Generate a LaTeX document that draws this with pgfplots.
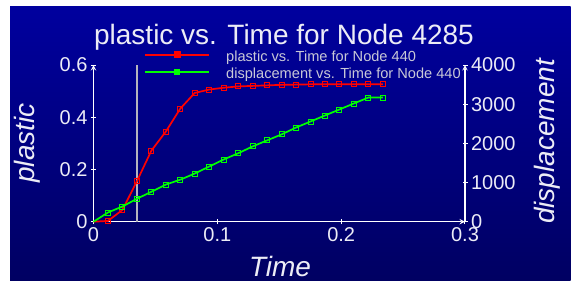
\documentclass[border=0pt]{standalone}
\usepackage{pgfplots}
\pgfplotsset{compat=1.18}
\usepackage{pgfplotstable}
\usepackage{fontspec}
\setmainfont{Liberation Sans}
\definecolor{bgtop}{RGB}{0,0,158}
\definecolor{bgbot}{RGB}{0,0,98}
\definecolor{txt}{RGB}{236,236,246}
\definecolor{legtxt}{RGB}{200,200,215}
\definecolor{vline}{RGB}{180,180,190}
\definecolor{myred}{RGB}{255,0,0}
\definecolor{mygreen}{RGB}{0,255,0}

\pgfplotstableread{
t plastic
0 0
0.01168 0.003
0.02336 0.045
0.03504 0.155
0.04672 0.272
0.05840 0.345
0.07008 0.433
0.08176 0.493
0.09344 0.506
0.10512 0.513
0.11680 0.518
0.12848 0.520
0.14016 0.522
0.15184 0.524
0.16352 0.525
0.17520 0.526
0.18688 0.526
0.19856 0.526
0.21024 0.526
0.22192 0.526
0.23360 0.526
}\plasticdata

\pgfplotstableread{
t disp
0 0
0.01168 235
0.02336 388
0.03504 585
0.04672 764
0.05840 948
0.07008 1072
0.08176 1230
0.09344 1408
0.10512 1588
0.11680 1746
0.12848 1921
0.14016 2075
0.15184 2228
0.16352 2403
0.17520 2557
0.18688 2711
0.19856 2864
0.21024 3018
0.22192 3168
0.23360 3168
}\dispdata

\pgfplotsset{
  mystyle/.style={
    scale only axis, width=371.5pt, height=156.7pt,
    at={(93.5pt,62.3pt)}, anchor=south west,
    xmin=0, xmax=0.3, clip=false,
    axis line style={white, line width=1.4pt, -},
    tick style={white, line width=1pt},
    major tick length=5pt, tick align=center,
    tick label style={text=txt, font=\fontsize{20}{24}\selectfont},
    /pgf/number format/assume math mode=true,
    /pgf/number format/1000 sep={},
    label style={text=txt, font=\fontsize{28}{32}\selectfont\itshape},
  },
  mylegimg/.style={
    legend image code/.code={
      \draw[##1, mark=none, line width=2pt] (0pt,2.5pt) -- (64pt,2.5pt);
      \draw[##1, mark=square*, mark phase=1, mark repeat=1, mark size=2.5pt] plot coordinates {(32pt,2.5pt)};
    }
  },
}

\begin{document}
\begin{tikzpicture}
\fill[white] (0,0) rectangle (574pt,284pt);
\shade[top color=bgtop, bottom color=bgbot] (10pt,3pt) rectangle (570.7pt,277pt);
\node[anchor=base, text=txt, font=\fontsize{28}{32}\selectfont, inner sep=0pt] at (284pt,239pt) {plastic vs. Time for Node 4285};

\begin{axis}[mystyle,
  axis x line=bottom, axis y line=left,
  ymin=0, ymax=0.6,
  ytick={0,0.2,0.4,0.6}, xtick={0,0.1,0.2,0.3},
  xlabel={Time}, ylabel={plastic},
  xlabel style={at={(axis description cs:0.502,-0.289)}, anchor=center},
  ylabel style={at={(axis description cs:-0.179,0.502)}, anchor=center},
]
\addplot[vline, line width=1.5pt] coordinates {(0.035,0) (0.035,0.6)};
\addplot[myred, line width=1.7pt, mark=square, mark size=2.5pt, mark phase=2,
  mark options={solid, line width=0.9pt}] table[x=t, y=plastic] {\plasticdata};
\end{axis}

\begin{axis}[mystyle, mylegimg,
  axis y line=right, axis x line=none,
  ymin=0, ymax=4000,
  ytick={0,1000,2000,3000,4000},
  ylabel={displacement},
  every axis y label/.style={at={(axis description cs:1.221,0.512)}, anchor=center, rotate=90,
    text=txt, font=\fontsize{28}{32}\selectfont\itshape},
  legend style={at={(axis description cs:0.1359,1.097)}, anchor=north west,
    draw=none, fill=none, text=legtxt, font=\fontsize{14.6}{16}\selectfont,
    nodes={inner sep=0pt, text height=11pt, text depth=3pt},
    row sep=3pt, column sep=16pt, inner sep=0pt},
  legend cell align=left,
]
\addlegendimage{myred, line width=1.7pt, mark=square, mark size=2.5pt}
\addlegendentry{plastic vs. Time for Node 440}
\addplot[mygreen, line width=1.7pt, mark=square, mark size=2.5pt, mark phase=2,
  mark options={solid, line width=0.9pt}] table[x=t, y=disp] {\dispdata};
\addlegendentry{displacement vs. Time for Node 440}
\end{axis}
\end{tikzpicture}
\end{document}
